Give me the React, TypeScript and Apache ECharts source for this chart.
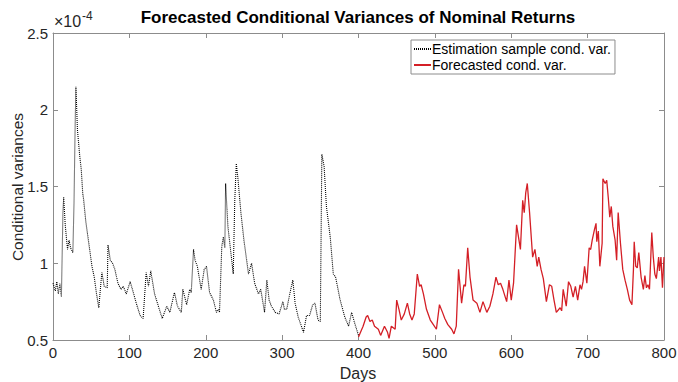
import React, { useEffect, useRef } from "react";
import * as echarts from "echarts";

// Conditional variances, in units of 1e-4
const estDays = [
  0, 3, 5, 7, 9, 11, 13, 14, 16, 19, 21, 23, 26, 27.5, 29, 30, 32, 35, 37, 39, 40, 43, 48, 51, 54, 57, 60,
  62, 64, 67, 71, 72, 75, 78, 81, 85, 89, 92, 96, 101, 104, 109, 114, 118, 122, 125, 128, 133, 138, 143,
  149, 153, 159, 163, 168, 170, 175, 179, 181, 184, 186, 189, 194, 198, 201, 205, 210, 214, 217, 218, 221,
  223, 225, 226, 229, 234, 236, 238, 240, 242, 246, 250, 256, 260, 264, 269, 272, 275, 277, 280, 283, 286,
  291, 296, 301, 303, 306, 310, 314, 317, 321, 328, 332, 336, 340, 343, 347, 350, 352, 355, 358, 363, 367,
  370, 376, 382, 387, 391, 395, 400,
];
const estVar = [
  0.87, 0.82, 0.88, 0.8, 0.87, 0.78, 1.33, 1.43, 1.25, 1.09, 1.15, 1.1, 1.07, 1.39, 1.9, 2.15, 1.87, 1.7,
  1.61, 1.45, 1.42, 1.27, 1.09, 0.98, 0.91, 0.8, 0.71, 0.83, 0.94, 0.85, 0.84, 1.12, 1.02, 1.0, 0.96, 0.87,
  0.83, 0.85, 0.8, 0.88, 0.83, 0.74, 0.66, 0.64, 0.94, 0.85, 0.95, 0.8, 0.72, 0.64, 0.72, 0.68, 0.81, 0.72,
  0.68, 0.83, 0.73, 0.83, 0.81, 1.09, 1.02, 0.98, 0.83, 0.96, 0.98, 0.81, 0.76, 0.68, 0.7, 0.68, 1.11, 1.17,
  1.1, 1.52, 1.24, 1.02, 0.93, 1.41, 1.65, 1.56, 1.33, 1.15, 0.93, 1.0, 0.87, 0.8, 0.83, 0.74, 0.68, 0.89,
  0.76, 0.72, 0.68, 0.67, 0.75, 0.7, 0.7, 0.8, 0.89, 0.74, 0.65, 0.55, 0.66, 0.66, 0.73, 0.74, 0.63, 0.62,
  1.71, 1.63, 1.37, 1.17, 0.93, 0.91, 0.76, 0.65, 0.59, 0.68, 0.61, 0.53,
];

const fcDays = [
  400, 406, 410, 412, 415, 418, 421, 426, 429, 434, 438, 440, 443, 448, 450, 453, 456, 460, 464, 467, 470,
  473, 477, 480, 482, 485, 489, 494, 498, 502, 506, 510, 513, 517, 522, 525, 528, 531, 535, 538, 540, 543,
  546, 550, 555, 559, 563, 568, 572, 576, 580, 583, 586, 589, 594, 597, 600, 603, 607, 612, 615, 617, 619,
  621, 624, 628, 631, 634, 636, 639, 642, 646, 650, 653, 656, 659, 664, 666, 668, 672, 675, 678, 681, 684,
  687, 690, 692, 694, 696, 699, 702, 704, 706, 709, 711, 712, 714, 716, 719, 720, 723, 725, 727, 729, 731,
  733, 736, 738, 740, 743, 746, 749, 752, 755, 758, 760, 761, 763, 765, 767, 770, 773, 775, 777, 779, 781,
  784, 786, 788, 790, 793, 794, 796, 798, 800,
];
const fcVar = [
  0.52, 0.59, 0.65, 0.66, 0.62, 0.63, 0.59, 0.57, 0.53, 0.59, 0.55, 0.51, 0.59, 0.57, 0.76, 0.7, 0.63, 0.67,
  0.74, 0.67, 0.63, 0.67, 0.93, 0.85, 0.86, 0.8, 0.7, 0.63, 0.6, 0.57, 0.73, 0.68, 0.64, 0.6, 0.57, 0.54,
  0.59, 0.96, 0.74, 0.86, 0.85, 1.1, 0.91, 0.76, 0.74, 0.68, 0.75, 0.68, 0.72, 0.8, 0.91, 0.86, 0.87, 0.83,
  0.75, 0.89, 0.76, 0.87, 1.25, 1.09, 1.41, 1.33, 1.46, 1.52, 1.33, 1.04, 1.09, 0.98, 1.04, 0.96, 0.9, 0.75,
  0.86, 0.85, 0.76, 0.68, 0.71, 0.69, 0.83, 0.72, 0.88, 0.85, 0.78, 0.85, 0.76, 0.86, 0.83, 0.88, 0.98, 0.87,
  1.1, 1.09, 1.15, 1.22, 1.26, 1.14, 1.21, 0.98, 1.13, 1.55, 1.52, 1.54, 1.43, 1.3, 1.37, 1.24, 1.15, 1.02,
  1.33, 1.13, 0.96, 0.89, 0.83, 0.76, 0.73, 0.96, 1.14, 0.98, 0.97, 1.07, 0.91, 0.83, 0.92, 0.84, 0.86, 0.83,
  1.2, 1.04, 0.93, 0.9, 1.04, 0.95, 1.04, 0.84, 1.04,
];

const xTicks = { min: 0, max: 800, interval: 100 };
const yTicks = { min: 0.5, max: 2.5, interval: 0.5 };

const seriesNames = ["Estimation sample cond. var.", "Forecasted cond. var."];
const titleText = "Forecasted Conditional Variances of Nominal Returns";
const yName = "Conditional variances";
const xName = "Days";

const FONT = "'Liberation Sans', Arial, Helvetica, sans-serif";
const TEXT = "#262626";
const AXIS = "#8c8c8c";

export default function App() {
  const ref = useRef<HTMLDivElement>(null);

  useEffect(() => {
    if (!ref.current) return;
    const chart = echarts.init(ref.current, undefined, { renderer: "svg" });

    const est = estDays.map((d, i) => [d, estVar[i]]);
    const fc = fcDays.map((d, i) => [d, fcVar[i]]);

    const tickStyle = { inside: true, length: 5, lineStyle: { color: AXIS, width: 1 } };
    const lineStyle = { lineStyle: { color: AXIS, width: 1 } };

    chart.setOption({
      animation: false,
      backgroundColor: "#ffffff",
      textStyle: { fontFamily: FONT },
      grid: {
        left: 53,
        right: 14,
        top: 33,
        bottom: 42,
        containLabel: false,
        outerBoundsMode: "none",
      },
      xAxis: [
        {
          type: "value",
          ...xTicks,
          position: "bottom",
          axisLine: { show: true, onZero: false, ...lineStyle },
          axisTick: tickStyle,
          splitLine: { show: false },
          axisLabel: { color: TEXT, fontSize: 15, fontFamily: FONT, margin: 5 },
        },
        {
          type: "value",
          ...xTicks,
          position: "top",
          axisLine: { show: true, onZero: false, ...lineStyle },
          axisTick: tickStyle,
          splitLine: { show: false },
          axisLabel: { show: false },
        },
      ],
      yAxis: [
        {
          type: "value",
          ...yTicks,
          position: "left",
          axisLine: { show: true, onZero: false, ...lineStyle },
          axisTick: tickStyle,
          splitLine: { show: false },
          axisLabel: {
            color: TEXT,
            fontSize: 15,
            fontFamily: FONT,
            margin: 5,
            formatter: (v: number) => String(v),
          },
        },
        {
          type: "value",
          ...yTicks,
          position: "right",
          axisLine: { show: true, onZero: false, ...lineStyle },
          axisTick: tickStyle,
          splitLine: { show: false },
          axisLabel: { show: false },
        },
      ],
      legend: {
        data: seriesNames,
        orient: "vertical",
        left: 411,
        top: 40,
        itemWidth: 17,
        itemHeight: 10,
        itemGap: 2,
        padding: [2, 4, 2, 2],
        backgroundColor: "#ffffff",
        borderColor: "#8c8c8c",
        borderWidth: 1,
        borderRadius: 0,
        itemStyle: { opacity: 0 },
        textStyle: { color: "#000000", fontSize: 14, fontFamily: FONT, padding: [0, 0, 0, -4] },
      },
      graphic: [
        {
          type: "text",
          x: 358,
          y: 17,
          style: {
            text: titleText,
            fill: "#000000",
            fontSize: 17,
            fontWeight: "bold",
            fontFamily: FONT,
            align: "center",
            verticalAlign: "middle",
          },
        },
        {
          type: "text",
          x: 358,
          y: 373,
          style: {
            text: xName,
            fill: TEXT,
            fontSize: 16,
            fontFamily: FONT,
            align: "center",
            verticalAlign: "middle",
          },
        },
        {
          type: "text",
          x: 17,
          y: 187,
          rotation: Math.PI / 2,
          style: {
            text: yName,
            fill: TEXT,
            fontSize: 15.5,
            fontFamily: FONT,
            align: "center",
            verticalAlign: "middle",
          },
        },
        // axis exponent: ×10^-4
        {
          type: "text",
          x: 54,
          y: 29,
          style: {
            text: "×10",
            fill: TEXT,
            fontSize: 16,
            fontFamily: FONT,
            align: "left",
            verticalAlign: "bottom",
          },
        },
        {
          type: "text",
          x: 82,
          y: 22,
          style: {
            text: "-4",
            fill: TEXT,
            fontSize: 12,
            fontFamily: FONT,
            align: "left",
            verticalAlign: "bottom",
          },
        },
      ],
      series: [
        {
          name: seriesNames[0],
          type: "line",
          xAxisIndex: 0,
          yAxisIndex: 0,
          data: est,
          symbol: "none",
          lineStyle: { color: "#000000", width: 1.1, type: [1, 1] },
          itemStyle: { color: "#000000" },
        },
        {
          name: seriesNames[1],
          type: "line",
          xAxisIndex: 0,
          yAxisIndex: 0,
          data: fc,
          symbol: "none",
          lineStyle: { color: "#d41f26", width: 1.3 },
          itemStyle: { color: "#d41f26" },
        },
      ],
    });

    return () => chart.dispose();
  }, []);

  return (
    <div
      ref={ref}
      style={{ position: "absolute", left: 0, top: 0, width: 678, height: 382 }}
    />
  );
}
